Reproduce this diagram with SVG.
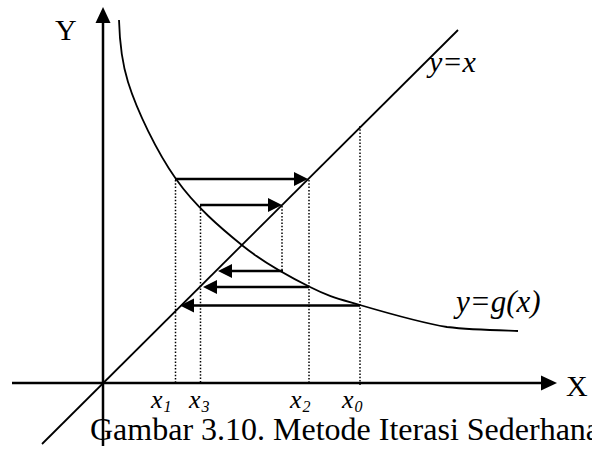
<svg xmlns="http://www.w3.org/2000/svg" width="592" height="450" viewBox="0 0 592 450">
<style>
.ax{stroke:#000;stroke-width:2.5;fill:none}
.ln{stroke:#000;stroke-width:1.8;fill:none}
.dot{stroke:#000;stroke-width:1.5;stroke-dasharray:1.5 1.8;fill:none}
.arr{stroke:#000;stroke-width:2.6;fill:none;marker-end:url(#ah)}
.t{font-family:"Liberation Serif","Times New Roman",serif;fill:#000}
.i{font-style:italic}
</style>
<defs>
<marker id="ah" markerUnits="userSpaceOnUse" markerWidth="15" markerHeight="15" refX="4" refY="7" orient="auto" viewBox="0 0 15 15">
<path d="M0,0 L14,7 L0,14 z" fill="#000"/>
</marker>
</defs>
<g id="axes">
<line class="ax" x1="103" y1="446" x2="103" y2="22"/>
<polygon points="103,7 95.5,23 110.5,23" fill="#000"/>
<line class="ax" x1="12" y1="383" x2="542" y2="383"/>
<polygon points="557,383 541,375.5 541,390.5" fill="#000"/>
<text class="t" x="55" y="40" font-size="30">Y</text>
<text class="t" x="566" y="396" font-size="30">X</text>
</g>
<g id="line-yx">
<line class="ln" x1="42" y1="444" x2="458" y2="30"/>
<text class="t i" x="429" y="72" font-size="30">y=x</text>
</g>
<g id="curve-g">
<path class="ln" d="M119,20 C119.5,38 122,62.8 128,82 C137,110.8 156.8,151.7 176,179 C195.2,206.3 220.7,228 243,246 C265.3,264 290.5,277.2 310,287 C329.5,296.8 337.2,298.3 360,305 C382.8,311.7 420.7,322.7 447,327 C473,330 506,330.5 518,331"/>
<text class="t i" x="456" y="312" font-size="31">y=g(x)</text>
</g>
<g id="connectors">
<line class="dot" x1="175.5" y1="180" x2="175.5" y2="383"/>
<line class="dot" x1="200.5" y1="206" x2="200.5" y2="383"/>
<line class="dot" x1="282" y1="206" x2="282" y2="270"/>
<line class="dot" x1="309" y1="180" x2="309" y2="383"/>
<line class="dot" x1="360" y1="126" x2="360" y2="386"/>
<line class="arr" x1="175" y1="179" x2="298" y2="179"/>
<line class="arr" x1="200" y1="205" x2="272" y2="205"/>
<line class="arr" x1="283" y1="271" x2="228" y2="271"/>
<line class="arr" x1="309" y1="287" x2="213" y2="287"/>
<line class="arr" x1="360" y1="305.5" x2="190" y2="305.5"/>
</g>
<g id="labels">
<text class="t i" x="151" y="408" font-size="26">x<tspan font-size="16" dx="1" dy="3.5">1</tspan></text>
<text class="t i" x="189" y="408" font-size="26">x<tspan font-size="16" dx="1" dy="3.5">3</tspan></text>
<text class="t i" x="290" y="408" font-size="26">x<tspan font-size="16" dx="1" dy="3.5">2</tspan></text>
<text class="t i" x="342" y="408" font-size="26">x<tspan font-size="16" dx="1" dy="3.5">0</tspan></text>
</g>
<text class="t" x="90" y="440" font-size="32">Gambar 3.10. Metode Iterasi Sederhana</text>
</svg>
